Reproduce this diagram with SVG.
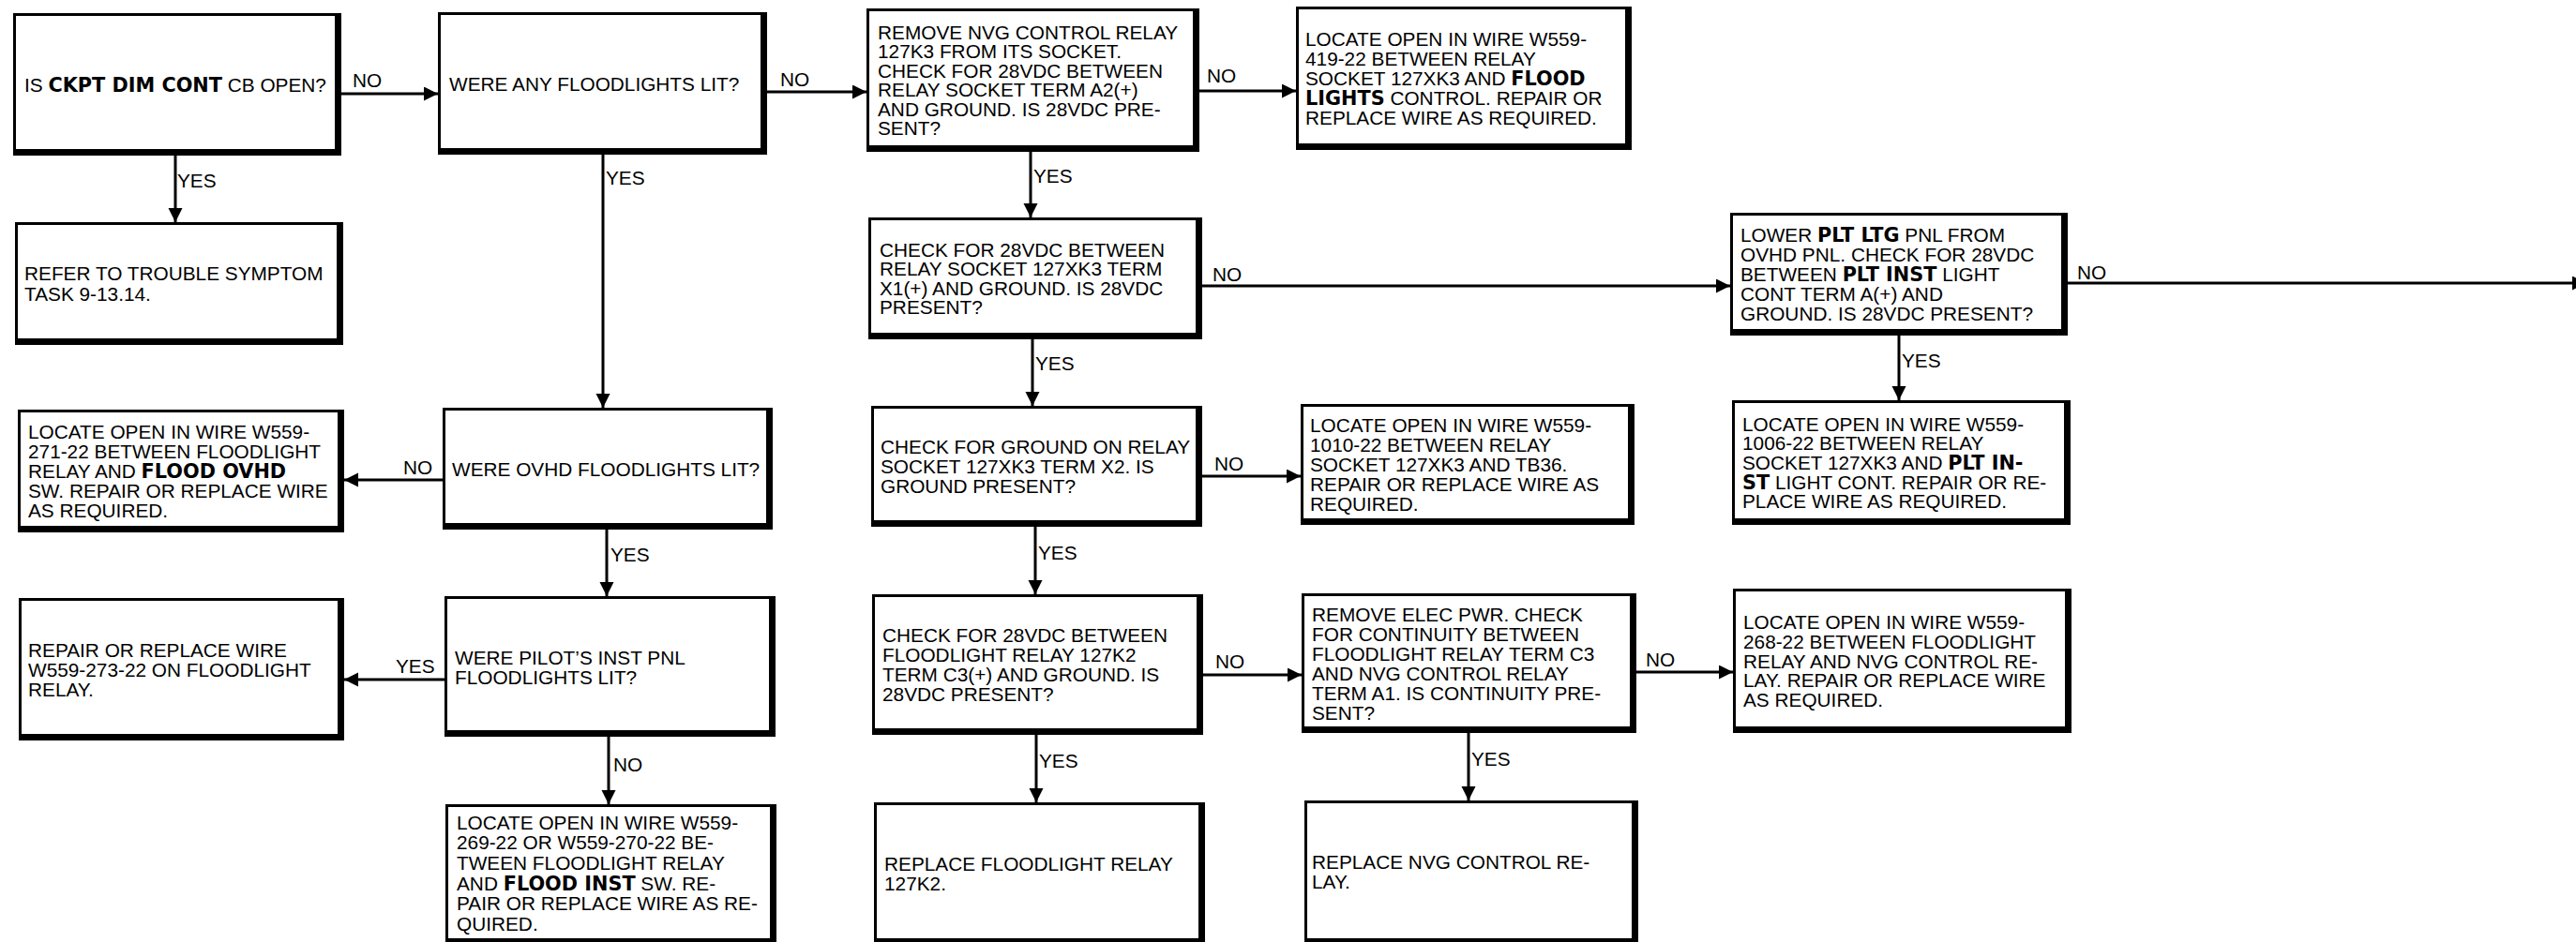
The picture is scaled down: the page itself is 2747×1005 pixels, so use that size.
<svg xmlns="http://www.w3.org/2000/svg" width="2747" height="1005" viewBox="0 0 2747 1005">
<style>
.bx{fill:#fff;stroke:#000;stroke-width:3}
.sh{fill:none;stroke:#000;stroke-width:7;stroke-linejoin:miter}
text{font-family:"Liberation Sans",Arial,Helvetica,sans-serif;font-size:20.8px;fill:#000}
.b{font-family:"DejaVu Sans","Liberation Sans",Arial,sans-serif;font-weight:bold}
.c{fill:none;stroke:#000;stroke-width:3;marker-end:url(#ah)}
</style>
<defs>
<marker id="ah" markerUnits="userSpaceOnUse" markerWidth="16" markerHeight="16" refX="15" refY="7.5" orient="auto">
<path d="M0,0 L15,7.5 L0,15 z" fill="#000"/>
</marker>
</defs>
<rect width="2747" height="1005" fill="#fff"/>

<g id="connectors">
<path class="c" d="M364 100 H467"/>
<path class="c" d="M818 98 H924"/>
<path class="c" d="M187 166 V237"/>
<path class="c" d="M643 165 V435"/>
<path class="c" d="M472 512 H367"/>
<path class="c" d="M647 565 V636"/>
<path class="c" d="M474 725 H367"/>
<path class="c" d="M649 786 V858"/>
<path class="c" d="M1279 97 H1382"/>
<path class="c" d="M1099 162 V232"/>
<path class="c" d="M1282 305 H1845"/>
<path class="c" d="M1101 362 V433"/>
<path class="c" d="M1282 508 H1387"/>
<path class="c" d="M1104 562 V634"/>
<path class="c" d="M1283 720 H1388"/>
<path class="c" d="M1105 784 V856"/>
<path class="c" d="M1745 717 H1848"/>
<path class="c" d="M1566 782 V854"/>
<path class="c" d="M2025 358 V427"/>
<path class="c" d="M2205 302 H2758"/>
<text x="376" y="93">NO</text>
<text x="832" y="92">NO</text>
<text x="189" y="200">YES</text>
<text x="646" y="197">YES</text>
<text x="430" y="506">NO</text>
<text x="651" y="599">YES</text>
<text x="422" y="718">YES</text>
<text x="654" y="823">NO</text>
<text x="1287" y="88">NO</text>
<text x="1102" y="195">YES</text>
<text x="1293" y="300">NO</text>
<text x="1104" y="395">YES</text>
<text x="1295" y="502">NO</text>
<text x="1107" y="597">YES</text>
<text x="1296" y="713">NO</text>
<text x="1108" y="819">YES</text>
<text x="1755" y="711">NO</text>
<text x="1569" y="817">YES</text>
<text x="2028" y="392">YES</text>
<text x="2215" y="298">NO</text>
</g>

<g id="nodeA">
<rect class="bx" x="15.5" y="15.5" width="347" height="149"/>
<path class="sh" d="M360.5 14 V162.5 H14"/>
<text x="26" y="97.5">IS <tspan class="b">CKPT DIM CONT</tspan> CB OPEN?</text>
</g>
<g id="nodeB">
<rect class="bx" x="468.5" y="14.5" width="348" height="149"/>
<path class="sh" d="M814.5 13 V161.5 H467"/>
<text x="479" y="96.5">WERE ANY FLOODLIGHTS LIT?</text>
</g>
<g id="nodeC">
<rect class="bx" x="17.5" y="238.5" width="347" height="128"/>
<path class="sh" d="M362.5 237 V364.5 H16"/>
<text x="26" y="299.4">REFER TO TROUBLE SYMPTOM</text>
<text x="26" y="320.6">TASK 9-13.14.</text>
</g>
<g id="nodeD">
<rect class="bx" x="473.5" y="436.5" width="349" height="127"/>
<path class="sh" d="M820.5 435 V561.5 H472"/>
<text x="482" y="507.5">WERE OVHD FLOODLIGHTS LIT?</text>
</g>
<g id="nodeE">
<rect class="bx" x="20.5" y="438.5" width="345" height="128"/>
<path class="sh" d="M363.5 437 V564.5 H19"/>
<text x="30" y="467.6">LOCATE OPEN IN WIRE W559-</text>
<text x="30" y="488.8">271-22 BETWEEN FLOODLIGHT</text>
<text x="30" y="510">RELAY AND <tspan class="b">FLOOD OVHD</tspan></text>
<text x="30" y="531.2">SW. REPAIR OR REPLACE WIRE</text>
<text x="30" y="552.4">AS REQUIRED.</text>
</g>
<g id="nodeF">
<rect class="bx" x="475.5" y="637.5" width="350" height="147"/>
<path class="sh" d="M823.5 636 V782.5 H474"/>
<text x="485" y="708.5">WERE PILOT’S INST PNL</text>
<text x="485" y="730">FLOODLIGHTS LIT?</text>
</g>
<g id="nodeG">
<rect class="bx" x="21.5" y="639.5" width="344" height="149"/>
<path class="sh" d="M363.5 638 V786.5 H20"/>
<text x="30" y="700.8">REPAIR OR REPLACE WIRE</text>
<text x="30" y="722">W559-273-22 ON FLOODLIGHT</text>
<text x="30" y="743.2">RELAY.</text>
</g>
<g id="nodeH">
<rect class="bx" x="476.5" y="859.5" width="350" height="147"/>
<path class="sh" d="M824.5 858 V1004.5 H475"/>
<text x="487" y="884.5">LOCATE OPEN IN WIRE W559-</text>
<text x="487" y="906.2">269-22 OR W559-270-22 BE-</text>
<text x="487" y="927.9">TWEEN FLOODLIGHT RELAY</text>
<text x="487" y="949.6">AND <tspan class="b">FLOOD INST</tspan> SW. RE-</text>
<text x="487" y="971.3">PAIR OR REPLACE WIRE AS RE-</text>
<text x="487" y="993">QUIRED.</text>
</g>
<g id="nodeI">
<rect class="bx" x="925.5" y="10.5" width="352" height="150"/>
<path class="sh" d="M1275.5 9 V158.5 H924"/>
<text x="936" y="41.8">REMOVE NVG CONTROL RELAY</text>
<text x="936" y="62.3">127K3 FROM ITS SOCKET.</text>
<text x="936" y="82.8">CHECK FOR 28VDC BETWEEN</text>
<text x="936" y="103.3">RELAY SOCKET TERM A2(+)</text>
<text x="936" y="123.8">AND GROUND. IS 28VDC PRE-</text>
<text x="936" y="144.3">SENT?</text>
</g>
<g id="nodeJ">
<rect class="bx" x="1383.5" y="8.5" width="355" height="150"/>
<path class="sh" d="M1736.5 7 V156.5 H1382"/>
<text x="1392" y="49">LOCATE OPEN IN WIRE W559-</text>
<text x="1392" y="70">419-22 BETWEEN RELAY</text>
<text x="1392" y="91">SOCKET 127XK3 AND <tspan class="b">FLOOD</tspan></text>
<text x="1392" y="112"><tspan class="b">LIGHTS</tspan> CONTROL. REPAIR OR</text>
<text x="1392" y="133">REPLACE WIRE AS REQUIRED.</text>
</g>
<g id="nodeK">
<rect class="bx" x="927.5" y="233.5" width="353" height="127"/>
<path class="sh" d="M1278.5 232 V358.5 H926"/>
<text x="938" y="273.8">CHECK FOR 28VDC BETWEEN</text>
<text x="938" y="294.3">RELAY SOCKET 127XK3 TERM</text>
<text x="938" y="314.8">X1(+) AND GROUND. IS 28VDC</text>
<text x="938" y="335.3">PRESENT?</text>
</g>
<g id="nodeL">
<rect class="bx" x="1846.5" y="228.5" width="357" height="128"/>
<path class="sh" d="M2201.5 227 V354.5 H1845"/>
<text x="1856" y="258.4">LOWER <tspan class="b">PLT LTG</tspan> PNL FROM</text>
<text x="1856" y="279.2">OVHD PNL. CHECK FOR 28VDC</text>
<text x="1856" y="300">BETWEEN <tspan class="b">PLT INST</tspan> LIGHT</text>
<text x="1856" y="320.8">CONT TERM A(+) AND</text>
<text x="1856" y="341.6">GROUND. IS 28VDC PRESENT?</text>
</g>
<g id="nodeM">
<rect class="bx" x="930.5" y="434.5" width="350" height="126"/>
<path class="sh" d="M1278.5 433 V558.5 H929"/>
<text x="939" y="484">CHECK FOR GROUND ON RELAY</text>
<text x="939" y="505">SOCKET 127XK3 TERM X2. IS</text>
<text x="939" y="526">GROUND PRESENT?</text>
</g>
<g id="nodeN">
<rect class="bx" x="1388.5" y="432.5" width="353" height="126"/>
<path class="sh" d="M1739.5 431 V556.5 H1387"/>
<text x="1397" y="461">LOCATE OPEN IN WIRE W559-</text>
<text x="1397" y="482">1010-22 BETWEEN RELAY</text>
<text x="1397" y="503">SOCKET 127XK3 AND TB36.</text>
<text x="1397" y="524">REPAIR OR REPLACE WIRE AS</text>
<text x="1397" y="545">REQUIRED.</text>
</g>
<g id="nodeO">
<rect class="bx" x="931.5" y="635.5" width="350" height="147"/>
<path class="sh" d="M1279.5 634 V780.5 H930"/>
<text x="941" y="685">CHECK FOR 28VDC BETWEEN</text>
<text x="941" y="706">FLOODLIGHT RELAY 127K2</text>
<text x="941" y="727">TERM C3(+) AND GROUND. IS</text>
<text x="941" y="748">28VDC PRESENT?</text>
</g>
<g id="nodeP">
<rect class="bx" x="1389.5" y="634.5" width="354" height="146"/>
<path class="sh" d="M1741.5 633 V778.5 H1388"/>
<text x="1399" y="662.5">REMOVE ELEC PWR. CHECK</text>
<text x="1399" y="683.5">FOR CONTINUITY BETWEEN</text>
<text x="1399" y="704.5">FLOODLIGHT RELAY TERM C3</text>
<text x="1399" y="725.5">AND NVG CONTROL RELAY</text>
<text x="1399" y="746.5">TERM A1. IS CONTINUITY PRE-</text>
<text x="1399" y="767.5">SENT?</text>
</g>
<g id="nodeQ">
<rect class="bx" x="933.5" y="857.5" width="350" height="149"/>
<path class="sh" d="M1281.5 856 V1004.5 H932"/>
<text x="943" y="928.5">REPLACE FLOODLIGHT RELAY</text>
<text x="943" y="950">127K2.</text>
</g>
<g id="nodeR">
<rect class="bx" x="1392.5" y="855.5" width="353" height="151"/>
<path class="sh" d="M1743.5 854 V1004.5 H1391"/>
<text x="1399" y="926.5">REPLACE NVG CONTROL RE-</text>
<text x="1399" y="948">LAY.</text>
</g>
<g id="nodeS">
<rect class="bx" x="1848.5" y="428.5" width="358" height="130"/>
<path class="sh" d="M2204.5 427 V556.5 H1847"/>
<text x="1858" y="459.6">LOCATE OPEN IN WIRE W559-</text>
<text x="1858" y="480.3">1006-22 BETWEEN RELAY</text>
<text x="1858" y="501">SOCKET 127XK3 AND <tspan class="b">PLT IN-</tspan></text>
<text x="1858" y="521.7"><tspan class="b">ST</tspan> LIGHT CONT. REPAIR OR RE-</text>
<text x="1858" y="542.4">PLACE WIRE AS REQUIRED.</text>
</g>
<g id="nodeT">
<rect class="bx" x="1849.5" y="629.5" width="358" height="151"/>
<path class="sh" d="M2205.5 628 V778.5 H1848"/>
<text x="1859" y="670.9">LOCATE OPEN IN WIRE W559-</text>
<text x="1859" y="691.7">268-22 BETWEEN FLOODLIGHT</text>
<text x="1859" y="712.5">RELAY AND NVG CONTROL RE-</text>
<text x="1859" y="733.3">LAY. REPAIR OR REPLACE WIRE</text>
<text x="1859" y="754.1">AS REQUIRED.</text>
</g>
</svg>
